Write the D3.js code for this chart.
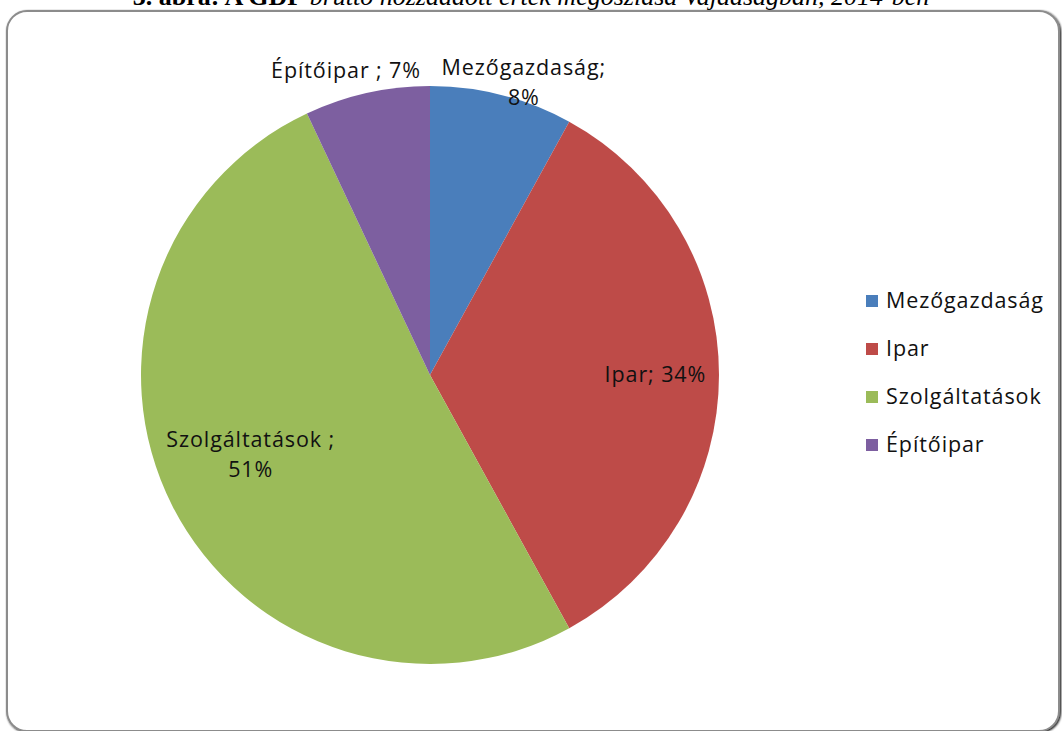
<!DOCTYPE html>
<html>
<head>
<meta charset="utf-8">
<script src="https://cdn.jsdelivr.net/npm/d3@7"></script>
<style>
  body { margin: 0; background: #fff; overflow: hidden; }
  svg { display: block; }
</style>
</head>
<body>
<div id="chart"></div>
<script>
// data
var sectors = ["Mezőgazdaság", "Ipar", "Szolgáltatások", "Építőipar"];
var shares = [8, 34, 51, 7];
var sliceColors = ["#4A7EBB", "#BE4B48", "#9BBB59", "#7D5FA0"];
// data label text, as printed in the chart
var labelLines = [["Mezőgazdaság;", "8%"], ["Ipar; 34%"], ["Szolgáltatások ;", "51%"], ["Építőipar ; 7%"]];

var width = 1062, height = 731;
var font = "'Open Sans', Lato, sans-serif";
var fontSize = 21.5;
var spacing = 0.9;

var svg = d3.select("#chart").append("svg")
    .attr("width", width)
    .attr("height", height);

// cut off caption above the frame
svg.append("text")
    .attr("x", width / 2)
    .attr("y", 5)
    .attr("text-anchor", "middle")
    .attr("font-family", "'Liberation Serif', serif")
    .attr("font-size", 26)
    .attr("fill", "#000")
    .html('<tspan font-weight="bold">3. ábra: A GDP</tspan> <tspan font-style="italic">bruttó hozzáadott érték megoszlása Vajdaságban, 2014-ben</tspan>');

// chart frame
var defs = svg.append("defs");
var filt = defs.append("filter").attr("id", "shadow").attr("x", "-5%").attr("y", "-5%").attr("width", "110%").attr("height", "110%");
filt.append("feGaussianBlur").attr("in", "SourceAlpha").attr("stdDeviation", 1.2);
filt.append("feOffset").attr("dx", 1).attr("dy", 1).attr("result", "off");
var merge = filt.append("feMerge");
merge.append("feMergeNode").attr("in", "off");
merge.append("feMergeNode").attr("in", "SourceGraphic");

svg.append("rect")
    .attr("x", 7)
    .attr("y", 11)
    .attr("width", 1052)
    .attr("height", 720)
    .attr("rx", 20)
    .attr("fill", "#fff")
    .attr("stroke", "#8c8c8c")
    .attr("stroke-width", 2)
    .attr("filter", "url(#shadow)");

// pie
var cx = 430, cy = 375, radius = 289;
var color = d3.scaleOrdinal().domain(sectors).range(sliceColors);

var pie = d3.pie().sort(null).value(d => d.value);
var arcs = pie(sectors.map((s, i) => ({ name: s, value: shares[i], lines: labelLines[i] })));

var arc = d3.arc().innerRadius(0).outerRadius(radius);

var pieGroup = svg.append("g")
    .attr("transform", `translate(${cx}, ${cy})`);

pieGroup.selectAll("path")
    .data(arcs)
    .join("path")
    .attr("d", arc)
    .attr("fill", d => color(d.data.name));

// label placement: radius factor and angle nudge per slice
var labelRadius = [1.06, 0.78, 0.68, 1.09];
var labelNudge = [0.06, 0, 0.05, -0.05];

var labels = pieGroup.selectAll("g.label")
    .data(arcs)
    .join("g")
    .attr("class", "label")
    .attr("transform", (d, i) => {
        var a = (d.startAngle + d.endAngle) / 2 + labelNudge[i];
        var r = radius * labelRadius[i];
        return `translate(${Math.sin(a) * r}, ${-Math.cos(a) * r})`;
    });

labels.append("text")
    .attr("text-anchor", "middle")
    .attr("font-family", font)
    .attr("font-size", fontSize)
    .attr("letter-spacing", spacing)
    .attr("fill", "#111")
    .selectAll("tspan")
    .data(d => d.data.lines.map((t, j, arr) => ({ t: t, dy: (j - (arr.length - 1) / 2) * 30 })))
    .join("tspan")
    .attr("x", 0)
    .attr("y", d => d.dy + 7)
    .text(d => d.t);

// legend
var legend = svg.append("g")
    .attr("transform", "translate(866, 301)");

var items = legend.selectAll("g")
    .data(sectors)
    .join("g")
    .attr("transform", (d, i) => `translate(0, ${i * 48})`);

items.append("rect")
    .attr("x", 0)
    .attr("y", -6)
    .attr("width", 12)
    .attr("height", 12)
    .attr("fill", d => color(d));

items.append("text")
    .attr("x", 20)
    .attr("y", 7)
    .attr("font-family", font)
    .attr("font-size", fontSize)
    .attr("letter-spacing", spacing)
    .attr("fill", "#111")
    .text(d => d);
</script>
</body>
</html>
